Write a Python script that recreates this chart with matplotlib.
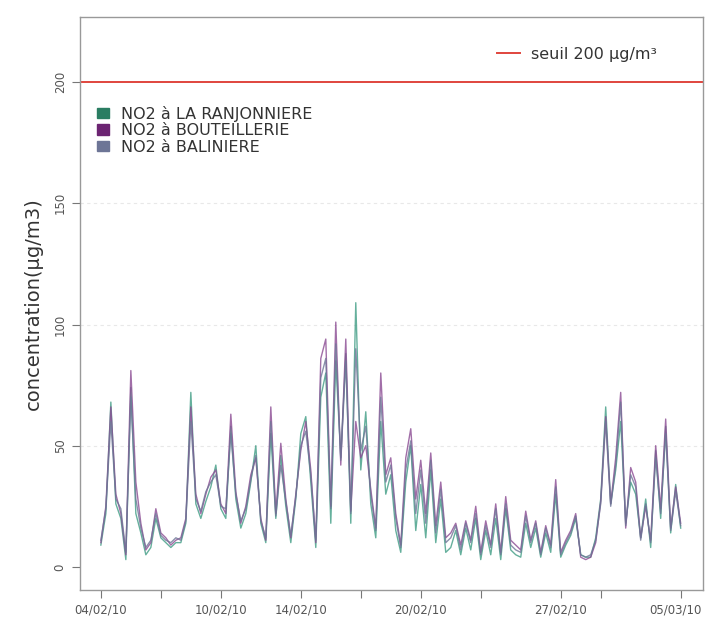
import pandas as pd
import matplotlib
matplotlib.use("Agg")
import matplotlib.pyplot as plt
import matplotlib.transforms as mtransforms
from matplotlib.lines import Line2D
from matplotlib.patches import Patch

# NO2 concentrations, one value every 6 hours (one row = one day)
ranjonniere = [
    9, 22, 68, 26,
    20, 3, 74, 22,
    14, 5, 8, 20,
    12, 10, 8, 10,
    10, 18, 72, 26,
    20, 27, 33, 42,
    24, 20, 58, 28,
    16, 22, 35, 50,
    18, 10, 55, 20,
    46, 25, 10, 28,
    55, 62, 35, 8,
    70, 80, 18, 85,
    45, 88, 18, 109,
    40, 64, 26, 12,
    60, 30, 38, 15,
    6, 35, 50, 15,
    34, 12, 40, 10,
    28, 6, 8, 15,
    5, 16, 7, 20,
    3, 15, 5, 20,
    3, 24, 7, 5,
    4, 18, 8, 16,
    4, 14, 6, 30,
    4, 9, 13, 20,
    5, 4, 4, 12,
    28, 66, 26, 40,
    60, 18, 35, 30,
    12, 28, 8, 48,
    20, 58, 14, 34,
    16,
]

bouteillerie = [
    10, 25, 66, 30,
    22, 5, 81, 35,
    18, 7, 10, 24,
    14, 12, 9, 11,
    12, 20, 66, 30,
    22, 30, 37, 40,
    26, 22, 63, 31,
    18, 25, 38, 45,
    20, 11, 66, 22,
    51, 28, 12, 30,
    48, 60, 40, 10,
    86, 94, 25, 101,
    42, 94, 23, 60,
    45, 50, 32, 16,
    80, 38, 45, 22,
    9, 45, 57, 28,
    44, 22, 47, 17,
    35, 12, 14, 18,
    9, 19, 11, 25,
    6, 19, 9, 26,
    6, 29, 11, 9,
    7, 23, 11, 19,
    6, 17, 9, 36,
    6, 11, 15, 22,
    4, 3, 4, 10,
    27, 62, 26, 45,
    72, 16, 41, 35,
    12, 25, 11, 50,
    24, 61, 16, 33,
    18,
]

baliniere = [
    11, 24, 60, 28,
    24, 6, 70, 28,
    16, 8, 11, 22,
    13, 11, 10, 12,
    11, 19, 60, 28,
    23, 31, 35, 38,
    25, 24, 55, 30,
    19, 24, 36, 46,
    19, 12, 60, 21,
    42, 27, 13, 29,
    50, 56, 38, 11,
    78, 86, 24, 92,
    44, 85, 22, 90,
    48, 58, 30, 15,
    70, 35, 42, 20,
    8, 40, 52, 22,
    40, 18, 44, 14,
    32, 10, 12, 17,
    7, 18, 10, 22,
    5, 17, 8, 24,
    5, 26, 9, 7,
    6, 21, 10, 18,
    5, 16, 8, 33,
    5, 10, 14, 21,
    5, 4, 5, 11,
    26, 60, 25, 42,
    68, 17, 38, 33,
    11, 26, 10, 45,
    22, 55, 15, 31,
    17,
]

seuil = 200

labels = ["NO2 à LA RANJONNIERE", "NO2 à BOUTEILLERIE", "NO2 à BALINIERE"]
colors = ["#2a7d62", "#6c2472", "#6d7596"]
line_colors = ["#3f9c84", "#8a4a92", "#6d7596"]

tick_days = ["2010-02-04", "2010-02-07", "2010-02-10", "2010-02-14", "2010-02-17",
             "2010-02-20", "2010-02-23", "2010-02-27", "2010-03-01", "2010-03-05"]
tick_text = ["04/02/10", "", "10/02/10", "14/02/10", "", "20/02/10", "", "27/02/10", "", "05/03/10"]

dates = pd.date_range("2010-02-04", periods=len(bouteillerie), freq="6h")

plt.rcParams['font.family'] = ['DejaVu Sans']
fig = plt.figure(figsize=(7.07, 6.19), dpi=100)
ax = fig.add_axes([0.113, 0.047, 0.881, 0.926])

for serie, col in zip([ranjonniere, bouteillerie, baliniere], line_colors):
    ax.plot(dates, serie, color=col, linewidth=1.0, alpha=0.8)

ax.axhline(seuil, color="#e0453d", linewidth=1.4)
for g in [50, 100, 150]:
    ax.axhline(g, color="#e8e8e8", linewidth=0.8, linestyle=(0, (3, 3)), zorder=0)

ax.set_ylim(-9.5, 227)
ax.set_xlim(pd.Timestamp("2010-02-02 22:50"), pd.Timestamp("2010-03-06 02:30"))

ax.set_yticks([0, 50, 100, 150, 200])
ax.set_yticklabels(["0", "50", "100", "150", "200"], rotation=90, va="center")
ax.set_xticks([pd.Timestamp(d) for d in tick_days])
ax.set_xticklabels(tick_text)
ax.tick_params(axis="both", colors="#777777", labelcolor="#555555", labelsize=8.5,
               length=6, direction="out")
for s in ax.spines.values():
    s.set_color("#999999")
    s.set_linewidth(1.0)

# last date label sits against the right border, pull it in a little
last = ax.get_xticklabels()[-1]
last.set_transform(last.get_transform() + mtransforms.ScaledTranslation(-5 / 100, 0, fig.dpi_scale_trans))

ax.set_ylabel("concentration(µg/m3)", fontsize=14, color="#333333", labelpad=8)

leg1 = ax.legend([Line2D([0], [0], color="#e0453d", linewidth=1.4)], ["seuil 200 µg/m³"],
                 loc="center left", bbox_to_anchor=(0.67, 0.934), frameon=False,
                 fontsize=11.5, handlelength=1.4, handletextpad=0.7, borderpad=0, borderaxespad=0,
                 labelcolor="#333333")
ax.add_artist(leg1)
handles = [Patch(facecolor=c, edgecolor=c) for c in colors]
ax.legend(handles, labels, loc="upper left", bbox_to_anchor=(0.028, 0.845), frameon=False,
          fontsize=11.5, handlelength=0.7, handleheight=0.65, handletextpad=0.8,
          labelspacing=0.1, borderpad=0, borderaxespad=0, labelcolor="#333333")

fig.savefig("out.png", dpi=100)
